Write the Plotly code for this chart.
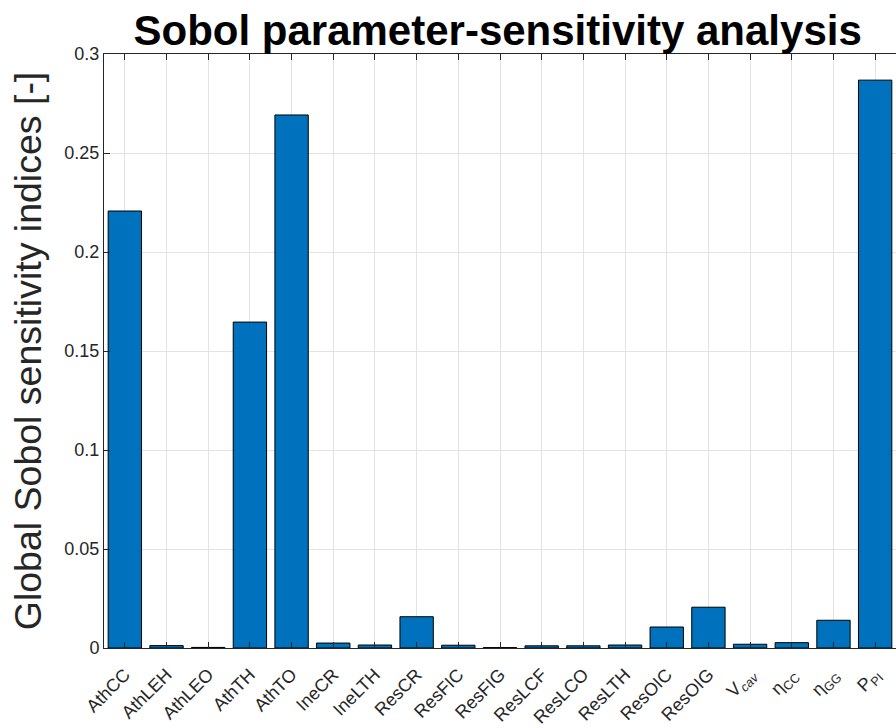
import plotly.graph_objects as go

# Sobol global sensitivity indices per model parameter
parameters = [
    "AthCC", "AthLEH", "AthLEO", "AthTH", "AthTO", "IneCR", "IneLTH",
    "ResCR", "ResFIC", "ResFIG", "ResLCF", "ResLCO", "ResLTH", "ResOIC",
    "ResOIG", "V<sub><i>cav</i></sub>", "η<sub>CC</sub>", "η<sub>GG</sub>",
    "P<sub>PI</sub>",
]
sobol_indices = [
    0.2207, 0.0012, 0.0003, 0.1646, 0.2692, 0.0025, 0.0015,
    0.0158, 0.0014, 0.0002, 0.0011, 0.0011, 0.0015, 0.0106,
    0.0206, 0.0019, 0.0027, 0.0140, 0.2868,
]
y_ticks = [0, 0.05, 0.1, 0.15, 0.2, 0.25, 0.3]
y_tick_text = ["0", "0.05", "0.1", "0.15", "0.2", "0.25", "0.3"]

positions = list(range(len(parameters)))
axis_col = "#262626"
grid_col = "#e3e3e3"
font_family = "Liberation Sans, Arial, sans-serif"

fig = go.Figure(
    go.Bar(
        x=positions,
        y=sobol_indices,
        width=0.8,
        marker=dict(color="#0072BD", line=dict(color="#000000", width=1)),
    )
)

fig.update_layout(
    width=896,
    height=728,
    margin=dict(l=104, r=0, t=54, b=80),
    paper_bgcolor="white",
    plot_bgcolor="white",
    showlegend=False,
    font=dict(family=font_family, color=axis_col),
    title=dict(
        text="<b>Sobol parameter-sensitivity analysis</b>",
        x=0.497,
        xref="paper",
        xanchor="center",
        y=1,
        yref="paper",
        yanchor="bottom",
        pad=dict(b=9),
        font=dict(size=42, color="#000000", family=font_family),
    ),
)

fig.update_xaxes(
    range=[-0.5, 18.5],
    tickmode="array",
    tickvals=positions,
    ticktext=parameters,
    tickangle=-45,
    tickfont=dict(size=18, color=axis_col),
    ticklabelstandoff=8,
    ticks="inside",
    ticklen=6,
    tickcolor=axis_col,
    showline=True,
    linecolor=axis_col,
    linewidth=1,
    mirror="allticks",
    showgrid=True,
    gridcolor=grid_col,
    gridwidth=1,
    zeroline=False,
)

fig.update_yaxes(
    range=[0, 0.3],
    tickmode="array",
    tickvals=y_ticks,
    ticktext=y_tick_text,
    tickfont=dict(size=18, color=axis_col),
    ticks="inside",
    ticklen=6,
    tickcolor=axis_col,
    showline=True,
    linecolor=axis_col,
    linewidth=1,
    showgrid=True,
    gridcolor=grid_col,
    gridwidth=1,
    zeroline=False,
    title=dict(
        text="Global Sobol sensitivity indices [-]",
        font=dict(size=37.5, color=axis_col),
        standoff=11,
    ),
)

fig.write_html("out.html")
